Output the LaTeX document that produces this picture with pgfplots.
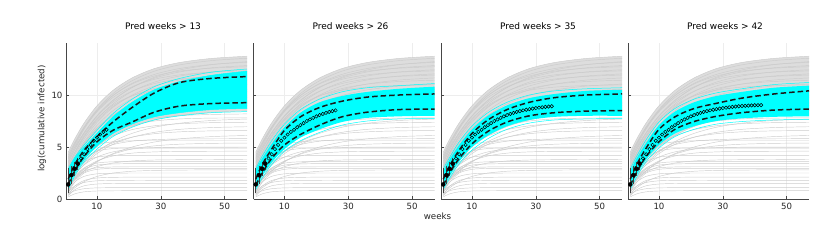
\documentclass[border=0pt]{standalone}
\usepackage{pgfplots}
\pgfplotsset{compat=1.18}
\usepackage{pgfplotstable}
\usepackage{fontspec}
\setmainfont{DejaVu Sans}

\definecolor{gr}{gray}{0.80}
\definecolor{grfill}{gray}{0.865}
\definecolor{cy}{rgb}{0,1,1}

\pgfplotstableread{
w y
1 1.4
2 2.3
3 2.9
4 3.4
5 3.9
6 4.3
7 4.8
8 5.2
9 5.6
10 5.9
11 6.2
12 6.45
13 6.65
14 6.9
15 7.1
16 7.3
17 7.5
18 7.65
19 7.8
20 7.95
21 8.07
22 8.18
23 8.28
24 8.37
25 8.45
26 8.52
27 8.58
28 8.64
29 8.69
30 8.74
31 8.78
32 8.82
33 8.86
34 8.89
35 8.92
36 8.94
37 8.96
38 8.98
39 9.0
40 9.01
41 9.02
42 9.03
}\obs

\pgfplotstableread{
w y ep em
1 1.4 1.2 0.5
2 2.3 0.5 0.5
3 2.9 0.35 0.35
4 3.4 0.25 0.25
}\obserr

\pgfplotsset{
 panel/.style={
  scale only axis, width=181pt, height=156pt,
  anchor=south west,
  xmin=0.3, xmax=57, ymin=0, ymax=15,
  axis x line*=bottom, axis y line*=left,
  xtick={10,30,50}, ytick={0,5,10},
  grid=major, major grid style={gray!14, line width=0.4pt},
  axis line style={-, gray!55!black, line width=0.5pt},
  tick style={gray!55!black, line width=0.4pt}, major tick length=2.5pt, tick align=inside,
  /pgf/number format/assume math mode=true,
  tick label style={font=\fontsize{8.6}{10}\selectfont, text=black!85},
  xticklabel style={yshift=-1pt},
  title style={font=\fontsize{9}{11}\selectfont, yshift=4pt, xshift=6.5pt},
 },
 greyl/.style={gr, line width=0.45pt, smooth, no markers, forget plot},
 cyl/.style={cy, line width=0.5pt, smooth, no markers, forget plot},
 cyf/.style={fill=cy, draw=none, smooth, no markers, forget plot},
 dash/.style={black!90, line width=1.5pt, dash pattern=on 5.5pt off 3pt, smooth, no markers, forget plot},
}

\newcommand\gc[9]{\def\gcA{(1,#1)(3,#2)(6,#3)(10,#4)(15,#5)(21,#6)(28,#7)(36,#8)(46,#9)}\gcB}
\newcommand\gcB[1]{\edef\gcT{\noexpand\addplot[greyl] coordinates {\gcA(57,#1)};}\gcT}

\newcommand\greys{%
\addplot[fill=grfill, draw=none, smooth, forget plot] coordinates {(1,4.5)(3,5.75)(6,7.32)(10,8.96)(15,10.44)(21,11.64)(28,12.54)(36,13.13)(46,13.52)(57,13.73)(59,13.8)(59,8.5)(57,8.48)(46,8.33)(36,8.04)(28,7.61)(21,6.97)(15,6.10)(10,5.02)(6,3.84)(3,2.70)(1,1.8)} -- cycle;
\gc{4.5}{5.75}{7.32}{8.96}{10.44}{11.64}{12.54}{13.13}{13.52}{13.73}
\gc{4.0}{5.29}{6.91}{8.60}{10.13}{11.37}{12.29}{12.90}{13.31}{13.53}
\gc{3.8}{4.94}{6.40}{7.97}{9.46}{10.72}{11.71}{12.41}{12.92}{13.21}
\gc{4.2}{5.41}{6.93}{8.51}{9.95}{11.12}{11.98}{12.55}{12.94}{13.14}
\gc{3.5}{4.76}{6.35}{8.00}{9.50}{10.72}{11.62}{12.22}{12.62}{12.83}
\gc{3.6}{5.02}{6.74}{8.46}{9.94}{11.06}{11.83}{12.30}{12.58}{12.72}
\gc{3.2}{4.45}{6.02}{7.66}{9.14}{10.34}{11.24}{11.83}{12.22}{12.43}
\gc{3.9}{5.21}{6.80}{8.39}{9.76}{10.79}{11.51}{11.94}{12.20}{12.32}
\gc{3.0}{4.22}{5.76}{7.36}{8.81}{9.99}{10.87}{11.45}{11.83}{12.03}
\gc{3.4}{4.72}{6.33}{7.94}{9.33}{10.37}{11.10}{11.54}{11.79}{11.92}
\gc{2.8}{4.00}{5.50}{7.07}{8.49}{9.64}{10.50}{11.06}{11.44}{11.64}
\gc{3.1}{4.39}{5.96}{7.54}{8.89}{9.91}{10.62}{11.05}{11.30}{11.42}
\gc{2.6}{3.74}{5.18}{6.68}{8.04}{9.14}{9.95}{10.49}{10.86}{11.05}
\gc{3.0}{4.45}{6.14}{7.74}{9.02}{9.92}{10.46}{10.76}{10.91}{10.97}
\gc{2.4}{3.50}{4.89}{6.33}{7.65}{8.71}{9.50}{10.02}{10.37}{10.55}
\gc{2.7}{3.89}{5.33}{6.77}{8.01}{8.94}{9.59}{9.98}{10.22}{10.33}
\gc{2.2}{3.25}{4.57}{5.94}{7.19}{8.20}{8.95}{9.45}{9.78}{9.96}
\gc{2.5}{3.82}{5.37}{6.83}{8.00}{8.81}{9.31}{9.58}{9.72}{9.77}
\gc{2.0}{2.98}{4.22}{5.51}{6.68}{7.62}{8.33}{8.79}{9.10}{9.27}
\gc{2.3}{3.51}{4.93}{6.27}{7.35}{8.10}{8.55}{8.80}{8.93}{8.97}
\gc{1.8}{2.70}{3.84}{5.02}{6.10}{6.97}{7.61}{8.04}{8.33}{8.48}
\gc{2.1}{3.20}{4.50}{5.72}{6.69}{7.38}{7.79}{8.02}{8.13}{8.18}
\gc{1.6}{2.42}{3.46}{4.54}{5.52}{6.31}{6.90}{7.29}{7.55}{7.69}
\gc{2.0}{2.98}{4.12}{5.20}{6.07}{6.67}{7.04}{7.24}{7.34}{7.38}
\gc{1.4}{2.26}{3.31}{4.36}{5.26}{5.94}{6.41}{6.70}{6.87}{6.95}
\gc{1.8}{2.67}{3.69}{4.65}{5.41}{5.95}{6.28}{6.46}{6.55}{6.58}
\gc{1.2}{1.87}{2.70}{3.57}{4.36}{5.00}{5.48}{5.79}{6.00}{6.11}
\gc{1.6}{2.65}{3.74}{4.64}{5.23}{5.56}{5.71}{5.77}{5.79}{5.80}
\gc{1.0}{1.80}{2.73}{3.61}{4.31}{4.81}{5.11}{5.27}{5.35}{5.38}
\gc{1.5}{2.37}{3.29}{4.03}{4.53}{4.80}{4.93}{4.98}{4.99}{5.00}
\gc{1.2}{2.05}{2.93}{3.66}{4.14}{4.41}{4.53}{4.58}{4.59}{4.60}
\gc{0.8}{2.46}{3.56}{4.03}{4.17}{4.2}{4.2}{4.2}{4.2}{4.2}
\gc{1.3}{1.92}{2.58}{3.11}{3.46}{3.66}{3.75}{3.78}{3.80}{3.80}
\gc{0.6}{1.96}{2.87}{3.26}{3.37}{3.4}{3.4}{3.4}{3.4}{3.4}
\gc{1.0}{2.02}{2.70}{3.00}{3.08}{3.1}{3.1}{3.1}{3.1}{3.1}
\gc{0.5}{1.07}{1.67}{2.17}{2.49}{2.67}{2.75}{2.78}{2.80}{2.80}
\gc{0.8}{1.63}{2.18}{2.42}{2.48}{2.5}{2.5}{2.5}{2.5}{2.5}
\gc{0.4}{1.23}{1.78}{2.02}{2.08}{2.1}{2.1}{2.1}{2.1}{2.1}
\gc{0.7}{1.24}{1.59}{1.75}{1.79}{1.8}{1.8}{1.8}{1.8}{1.8}
\gc{0.3}{0.88}{1.27}{1.44}{1.49}{1.5}{1.5}{1.5}{1.5}{1.5}
\gc{0.5}{0.79}{0.99}{1.07}{1.09}{1.1}{1.1}{1.1}{1.1}{1.1}
\gc{0.2}{0.49}{0.69}{0.77}{0.79}{0.8}{0.8}{0.8}{0.8}{0.8}
\gc{1.1}{2.60}{3.90}{4.60}{4.85}{4.90}{4.90}{4.90}{4.90}{4.90}
\gc{1.4}{2.90}{4.30}{5.20}{5.50}{5.60}{5.60}{5.60}{5.60}{5.60}
\gc{0.9}{2.10}{3.00}{3.45}{3.58}{3.60}{3.60}{3.60}{3.60}{3.60}
\gc{0.6}{1.60}{2.50}{2.85}{2.94}{2.95}{2.95}{2.95}{2.95}{2.95}
\gc{1.5}{2.55}{3.90}{5.30}{6.40}{7.10}{7.50}{7.70}{7.78}{7.80}
\gc{2.2}{3.30}{4.80}{6.20}{7.40}{8.20}{8.70}{9.00}{9.15}{9.20}
}

\newcommand\obsplot[1]{%
\addplot[black, only marks, mark=o, mark size=1.7pt, mark options={line width=0.5pt}, restrict x to domain=1:#1, forget plot] table[x=w, y=y] {\obs};
\addplot[only marks, mark=none, forget plot, error bars/.cd, y dir=both, y explicit,
  error bar style={black!75, line width=0.7pt, solid},
  error mark options={mark size=3.5pt, black!75, line width=0.7pt, solid}]
  table[x=w, y=y, y error plus=ep, y error minus=em] {\obserr};
}

\begin{document}
\begin{tikzpicture}
\path[use as bounding box] (0,0) rectangle (822pt,241pt);

% Panel 1
\begin{axis}[panel, at={(66pt,42pt)}, title={Pred weeks > 13}]
\greys
\addplot[cyf] coordinates {(1,2.8)(3,3.9)(6,5.0)(10,6.3)(15,7.9)(21,9.3)(28,10.5)(36,11.3)(46,11.9)(57,12.3)(59,12.35)(59,8.7)(57,8.7)(46,8.6)(36,8.3)(28,7.9)(21,7.2)(15,6.3)(10,5.1)(6,3.8)(3,2.4)(1,1.0)} -- cycle;
\addplot[cyl] coordinates {(1,2.8)(3,3.9)(6,5.0)(10,6.3)(15,7.9)(21,9.3)(28,10.5)(36,11.3)(46,11.9)(57,12.3)};
\addplot[cyl] coordinates {(1,1.0)(3,2.4)(6,3.8)(10,5.1)(15,6.3)(21,7.2)(28,7.9)(36,8.3)(46,8.6)(57,8.7)};
\addplot[cyl] coordinates {(1,2.9)(3,4.0)(6,5.2)(10,6.6)(15,8.2)(21,9.6)(28,10.8)(36,11.6)(46,12.2)(57,12.5)};
\addplot[cyl] coordinates {(1,0.9)(3,2.2)(6,3.6)(10,4.8)(15,6.0)(21,6.9)(28,7.6)(36,8.0)(46,8.3)(57,8.4)};
\obsplot{13}
\addplot[dash] coordinates {(1,1.9)(3,3.3)(6,4.7)(10,6.0)(15,7.4)(21,8.8)(28,10.2)(36,11.2)(46,11.6)(57,11.77)};
\addplot[dash] coordinates {(1,1.4)(3,2.7)(6,4.1)(10,5.5)(15,6.6)(21,7.4)(28,8.35)(36,8.94)(46,9.18)(57,9.26)};
\end{axis}

% Panel 2
\begin{axis}[panel, at={(253.5pt,42pt)}, title={Pred weeks > 26}, yticklabels={}]
\greys
\addplot[cyf] coordinates {(1,2.8)(3,3.9)(6,5.3)(10,6.9)(15,8.3)(21,9.3)(28,9.9)(36,10.3)(46,10.6)(57,10.8)(59,10.8)(59,8.0)(57,8.0)(46,7.95)(36,7.8)(28,7.4)(21,6.7)(15,5.9)(10,4.8)(6,3.5)(3,2.2)(1,1.0)} -- cycle;
\addplot[cyl] coordinates {(1,2.9)(3,4.1)(6,5.6)(10,7.2)(15,8.6)(21,9.6)(28,10.3)(36,10.7)(46,10.9)(57,11.1)};
\addplot[cyl] coordinates {(1,0.9)(3,2.0)(6,3.3)(10,4.6)(15,5.6)(21,6.4)(28,7.1)(36,7.5)(46,7.7)(57,7.75)};
\obsplot{26}
\addplot[dash] coordinates {(1,1.9)(3,3.3)(6,4.8)(10,6.6)(15,7.9)(21,8.8)(28,9.4)(36,9.8)(46,10.0)(57,10.1)};
\addplot[dash] coordinates {(1,1.3)(3,2.5)(6,3.9)(10,5.2)(15,6.2)(21,7.1)(28,7.9)(36,8.35)(46,8.6)(57,8.65)};
\end{axis}

% Panel 3
\begin{axis}[panel, at={(441pt,42pt)}, title={Pred weeks > 35}, yticklabels={}]
\greys
\addplot[cyf] coordinates {(1,2.7)(3,3.8)(6,5.2)(10,6.7)(15,8.0)(21,9.0)(28,9.7)(36,10.1)(46,10.4)(57,10.5)(59,10.5)(59,8.0)(57,8.0)(46,8.0)(36,7.9)(28,7.6)(21,7.0)(15,6.1)(10,5.0)(6,3.6)(3,2.2)(1,1.0)} -- cycle;
\addplot[cyl] coordinates {(1,2.9)(3,4.0)(6,5.5)(10,7.0)(15,8.3)(21,9.3)(28,10.0)(36,10.4)(46,10.6)(57,10.7)};
\addplot[cyl] coordinates {(1,0.9)(3,2.0)(6,3.4)(10,4.7)(15,5.8)(21,6.7)(28,7.3)(36,7.6)(46,7.7)(57,7.75)};
\obsplot{35}
\addplot[dash] coordinates {(1,1.9)(3,3.2)(6,4.7)(10,6.3)(15,7.6)(21,8.6)(28,9.3)(36,9.75)(46,10.0)(57,10.1)};
\addplot[dash] coordinates {(1,1.3)(3,2.5)(6,3.9)(10,5.3)(15,6.5)(21,7.4)(28,8.0)(36,8.3)(46,8.45)(57,8.5)};
\end{axis}

% Panel 4
\begin{axis}[panel, at={(628pt,42pt)}, title={Pred weeks > 42}, yticklabels={}]
\greys
\addplot[cyf] coordinates {(1,2.7)(3,3.9)(6,5.4)(10,7.1)(15,8.4)(21,9.3)(28,9.9)(36,10.3)(46,10.7)(57,10.9)(59,10.9)(59,7.95)(57,7.95)(46,7.9)(36,7.75)(28,7.5)(21,7.0)(15,6.3)(10,5.2)(6,3.8)(3,2.3)(1,1.0)} -- cycle;
\addplot[cyl] coordinates {(1,2.9)(3,4.1)(6,5.7)(10,7.4)(15,8.7)(21,9.6)(28,10.2)(36,10.6)(46,11.0)(57,11.2)};
\addplot[cyl] coordinates {(1,0.9)(3,2.1)(6,3.6)(10,4.9)(15,6.0)(21,6.7)(28,7.2)(36,7.45)(46,7.6)(57,7.65)};
\obsplot{42}
\addplot[dash] coordinates {(1,1.9)(3,3.3)(6,4.9)(10,6.7)(15,7.9)(21,8.7)(28,9.2)(36,9.7)(46,10.1)(57,10.4)};
\addplot[dash] coordinates {(1,1.3)(3,2.6)(6,4.1)(10,5.5)(15,6.7)(21,7.45)(28,7.95)(36,8.3)(46,8.55)(57,8.65)};
\end{axis}

\node[rotate=90, font=\fontsize{8.7}{10}\selectfont, text=black!85] at (42pt,122.5pt) {log(cumulative infected)};
\node[font=\fontsize{8.7}{10}\selectfont, text=black!85] at (437.5pt,25pt) {weeks};
\end{tikzpicture}
\end{document}
